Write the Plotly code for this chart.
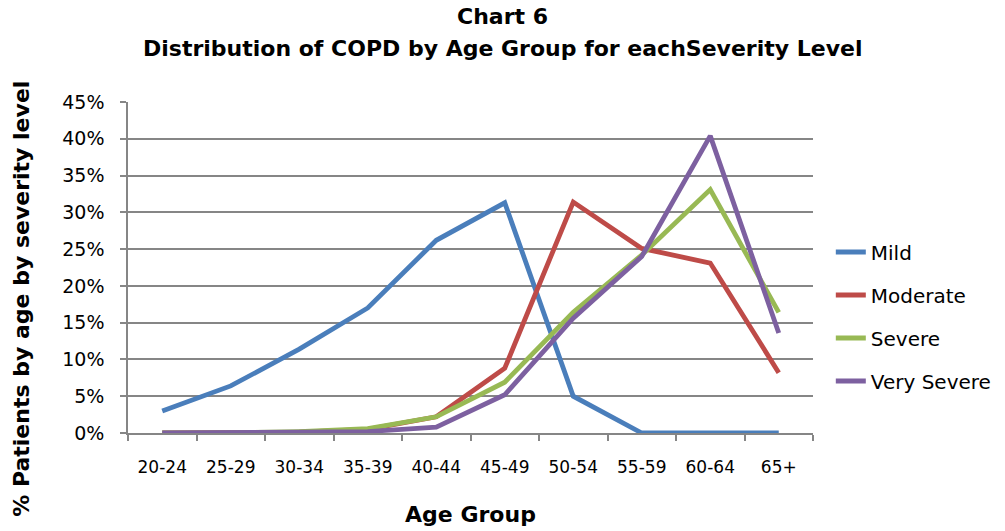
import plotly.graph_objects as go

categories = ["20-24", "25-29", "30-34", "35-39", "40-44", "45-49", "50-54", "55-59", "60-64", "65+"]
mild = [3.0, 6.4, 11.4, 17.0, 26.2, 31.3, 5.0, 0.0, 0.0, 0.0]
moderate = [0.0, 0.0, 0.1, 0.5, 2.2, 8.8, 31.4, 25.1, 23.1, 8.2]
severe = [0.0, 0.0, 0.2, 0.6, 2.2, 6.9, 16.4, 24.2, 33.1, 16.4]
very_severe = [0.0, 0.0, 0.1, 0.2, 0.8, 5.2, 15.6, 24.0, 40.4, 13.6]
series_names = ["Mild", "Moderate", "Severe", "Very Severe"]
series_colors = ["#4A7EBB", "#BE4B48", "#98B954", "#7D60A0"]
y_ticks = [0, 5, 10, 15, 20, 25, 30, 35, 40, 45]
title_lines = ["Chart 6", "Distribution of COPD by Age Group for eachSeverity Level"]
y_title = "% Patients by age by severity level"
x_title = "Age Group"

font = "DejaVu Sans, Liberation Sans, Arial, sans-serif"

fig = go.Figure()
for name, vals, col in zip(series_names, [mild, moderate, severe, very_severe], series_colors):
    fig.add_trace(go.Scatter(
        x=categories, y=[v / 100 for v in vals], mode="lines", name=name,
        line=dict(color=col, width=4.8), cliponaxis=False, legendgroup=name,
    ))

fig.update_layout(
    width=1005, height=531,
    margin=dict(l=128, r=192, t=102, b=98, autoexpand=False),
    paper_bgcolor="white", plot_bgcolor="white",
    font=dict(family=font, color="black"),
    legend=dict(
        x=1.026, xanchor="left", y=0.352, yanchor="middle",
        font=dict(size=20, family=font, color="black"),
        tracegroupgap=14, bgcolor="rgba(0,0,0,0)",
    ),
    showlegend=True,
    annotations=[
        dict(text=f"<b>{title_lines[0]}</b>", x=0.546, xref="paper", y=1.257, yref="paper",
             xanchor="center", yanchor="middle", showarrow=False,
             font=dict(size=22, family=font, color="black")),
        dict(text=f"<b>{title_lines[1]}</b>", x=0.546, xref="paper", y=1.163, yref="paper",
             xanchor="center", yanchor="middle", showarrow=False,
             font=dict(size=22, family=font, color="black")),
        dict(text=f"<b>{y_title}</b>", textangle=-90, x=-0.155, xref="paper", y=0.405, yref="paper",
             xanchor="center", yanchor="middle", showarrow=False,
             font=dict(size=22, family=font, color="black")),
    ],
)

fig.update_xaxes(
    type="category", range=[-0.5, 9.5], automargin=False,
    showline=True, linecolor="#868686", linewidth=1.5,
    ticks="outside", tickson="boundaries", ticklen=6, tickcolor="#868686", tickwidth=1.5,
    tickfont=dict(size=17, family=font, color="black"), ticklabelstandoff=18,
    showgrid=False, zeroline=False,
    title=dict(text=f"<b>{x_title}</b>", font=dict(size=22, family=font, color="black"), standoff=30),
)
fig.update_yaxes(
    range=[0, 0.45], tickvals=[t / 100 for t in y_ticks], ticktext=[f"{t}%" for t in y_ticks],
    automargin=False,
    showline=True, linecolor="#868686", linewidth=1.5,
    ticks="outside", ticklen=6, tickcolor="#868686", tickwidth=1.5,
    tickfont=dict(size=19, family=font, color="black"), ticklabelstandoff=12,
    showgrid=True, gridcolor="#868686", gridwidth=1.5, zeroline=False,
)

fig.write_html("out.html")
